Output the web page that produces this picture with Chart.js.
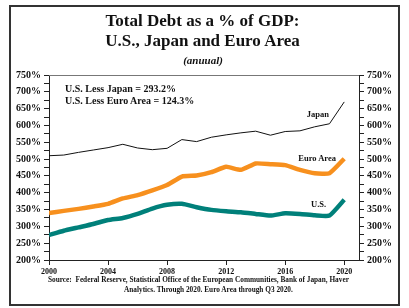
<!DOCTYPE html>
<html>
<head>
<meta charset="utf-8">
<script src="https://cdn.jsdelivr.net/npm/chart.js@4/dist/chart.umd.min.js"></script>
<style>
  html, body { margin: 0; padding: 0; background: #fff; }
  #wrap { position: relative; width: 409px; height: 308px; overflow: hidden; font-family: 'Liberation Serif', 'Times New Roman', serif; color: #111; }
  #frame { position: absolute; left: 9px; top: 5px; width: 391px; height: 301px; box-sizing: border-box; border: 2px solid #333; }
  canvas { position: absolute; left: 0; top: 0; }
  .t { position: absolute; white-space: nowrap; line-height: 1; font-weight: bold; }
</style>
</head>
<body>
<div id="wrap">
  <div id="frame"></div>
  <canvas id="c" width="409" height="308"></canvas>
  <div class="t" style="left:0;width:405px;text-align:center;top:12.4px;font-size:17px;">Total Debt as a % of GDP:</div>
  <div class="t" style="left:0;width:405px;text-align:center;top:31.7px;font-size:17px;">U.S., Japan and Euro Area</div>
  <div class="t" style="left:0;width:406px;text-align:center;top:54.8px;font-size:11px;font-style:italic;">(anuual)</div>
  <div class="t" style="left:65px;top:84.3px;font-size:10px;">U.S. Less Japan = 293.2%</div>
  <div class="t" style="left:65px;top:96.3px;font-size:10px;">U.S. Less Euro Area = 124.3%</div>
  <div class="t" style="left:306.7px;top:109.9px;font-size:8.5px;">Japan</div>
  <div class="t" style="left:298.3px;top:153.6px;font-size:8.5px;">Euro Area</div>
  <div class="t" style="left:311px;top:199.6px;font-size:8.5px;">U.S.</div>
  <div class="t" style="left:48px;top:275.5px;font-size:7.3px;">Source:&nbsp; Federal Reserve, Statistical Office of the European Communities, Bank of Japan, Haver</div>
  <div class="t" style="left:124px;top:286.2px;font-size:7.3px;">Analytics. Through 2020. Euro Area through Q3 2020.</div>
</div>
<script>
const years = [2000,2001,2002,2003,2004,2005,2006,2007,2008,2009,2010,2011,2012,2013,2014,2015,2016,2017,2018,2019,2020];
const japan = [510,512,520,527,534,544,533,528,532,558,552,565,572,578,583,571,582,584,596,605,670];
const euroArea = [340,346,352,359,367,383,393,407,423,448,451,461,477,468,487,485,482,468,458,458,501];
const us = [274,287,297,307,319,325,337,353,364,367,357,349,345,342,337,332,339,337,333,332,379];
const xTicks = [2000,2004,2008,2012,2016,2020];
const yTicks = [200,225,250,275,300,325,350,375,400,425,450,475,500,525,550,575,600,625,650,675,700,725,750];

const pts = arr => years.map((y, i) => ({x: y, y: arr[i]}));
const FONT = "'Liberation Serif', 'Times New Roman', serif";

const topLine = {
  id: 'topLine',
  afterDraw(chart) {
    const {ctx, chartArea: a} = chart;
    ctx.save();
    ctx.strokeStyle = '#777';
    ctx.lineWidth = 1;
    ctx.beginPath();
    ctx.moveTo(a.left, a.top + 0.5);
    ctx.lineTo(a.right, a.top + 0.5);
    ctx.stroke();
    ctx.restore();
  }
};

function yAxis(pos, w) {
  return {
    type: 'linear', position: pos, min: 200, max: 750,
    afterBuildTicks: s => { s.ticks = yTicks.map(v => ({value: v})); },
    afterFit: s => { s.width = w; },
    ticks: {
      autoSkip: false, color: '#111', padding: 3,
      font: {family: FONT, size: 10, weight: 'bold'},
      callback: v => (v % 50 === 0 ? v + '%' : '')
    },
    grid: {drawOnChartArea: false, drawTicks: true, tickLength: 5, color: '#222'},
    border: {display: true, color: '#222', width: 1}
  };
}

new Chart(document.getElementById('c'), {
  type: 'line',
  data: {
    datasets: [
      {label: 'Japan', data: pts(japan), borderColor: '#111', borderWidth: 1, pointRadius: 0, tension: 0},
      {label: 'Euro Area', data: pts(euroArea), borderColor: '#F7901E', borderWidth: 4.5, pointRadius: 0, tension: 0.15},
      {label: 'U.S.', data: pts(us), borderColor: '#00807A', borderWidth: 4.5, pointRadius: 0, tension: 0.15}
    ]
  },
  options: {
    responsive: false, animation: false,
    layout: {padding: {top: 75, left: 0, right: 0, bottom: 0}},
    plugins: {legend: {display: false}, tooltip: {enabled: false}},
    scales: {
      x: {
        type: 'linear', min: 2000, max: 2021,
        afterBuildTicks: s => { s.ticks = xTicks.map(v => ({value: v})); },
        afterFit: s => { s.height = 48; },
        ticks: {autoSkip: false, color: '#111', padding: 2, maxRotation: 0,
          font: {family: FONT, size: 8, weight: 'bold'}, callback: v => String(v)},
        grid: {drawOnChartArea: false, drawTicks: true, tickLength: 5, color: '#222'},
        border: {display: true, color: '#222', width: 1}
      },
      y: yAxis('left', 49),
      y2: yAxis('right', 50)
    }
  },
  plugins: [topLine]
});
</script>
</body>
</html>
